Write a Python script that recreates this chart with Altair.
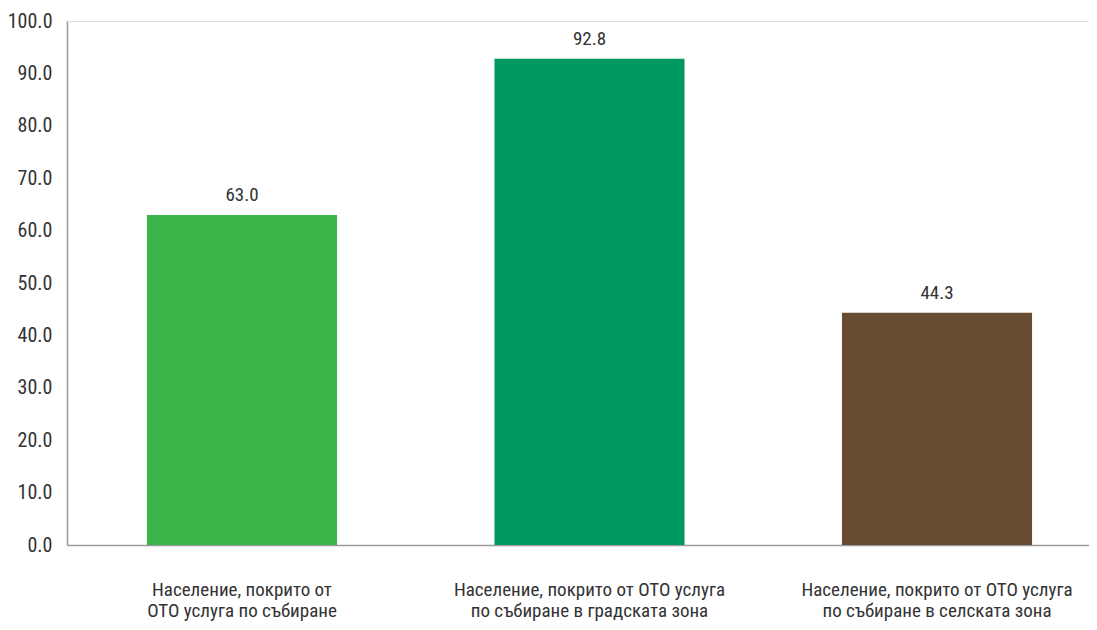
import altair as alt
import pandas as pd

categories = [
    "Население, покрито от|ОТО услуга по събиране",
    "Население, покрито от ОТО услуга|по събиране в градската зона",
    "Население, покрито от ОТО услуга|по събиране в селската зона",
]
values = [63.0, 92.8, 44.3]
colors = ["#3bb54a", "#00995f", "#674b33"]

df = pd.DataFrame({"cat": categories, "val": values, "col": colors})

FONT = "Roboto Condensed"

x = alt.X(
    "cat:N",
    sort=None,
    scale=alt.Scale(paddingInner=0.453, paddingOuter=0.197, align=0.584),
    axis=alt.Axis(
        title=None,
        labelAngle=0,
        labelExpr="split(datum.label, '|')",
        labelFont=FONT,
        labelFontSize=19,
        labelColor="#333333",
        labelLineHeight=21,
        labelBaseline="top",
        labelPadding=35,
        labelLimit=400,
        ticks=False,
        domainColor="#9a9a9a",
        domainWidth=1.5,
    ),
)

bars = alt.Chart(df).mark_bar().encode(
    x=x,
    y=alt.Y(
        "val:Q",
        scale=alt.Scale(domain=[0, 100], nice=False),
        axis=alt.Axis(
            title=None,
            values=list(range(0, 101, 10)),
            format=".1f",
            labelFont=FONT,
            labelFontSize=20,
            labelColor="#333333",
            labelPadding=15,
            ticks=False,
            grid=False,
            domainColor="#9a9a9a",
            domainWidth=1.5,
        ),
    ),
    color=alt.Color("col:N", scale=None),
)

labels = alt.Chart(df).mark_text(
    font=FONT, fontSize=19, color="#333333", baseline="alphabetic", dy=-14
).encode(
    x=alt.X("cat:N", sort=None),
    y="val:Q",
    text=alt.Text("val:Q", format=".1f"),
)

chart = (
    alt.layer(bars, labels)
    .properties(
        width=1022,
        height=524,
        autosize=alt.AutoSizeParams(type="none"),
        padding={"left": 59, "top": 13, "right": 0, "bottom": 77},
    )
    .configure_view(strokeWidth=0)
    .configure(background="white")
)

chart.save("out.html", embed_options={"renderer": "svg", "actions": False})
